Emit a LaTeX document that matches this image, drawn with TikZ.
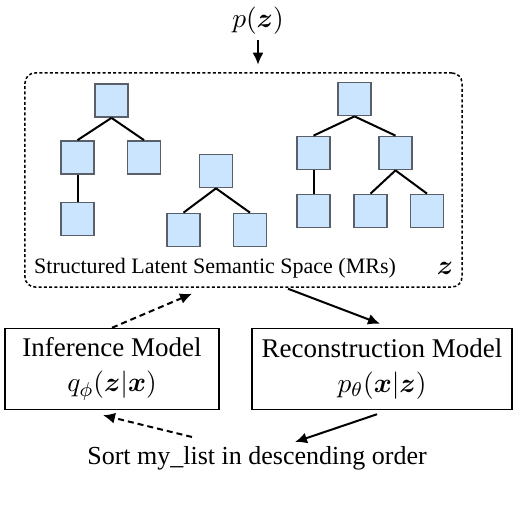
\documentclass[tikz,border=0pt]{standalone}
\usepackage{amsmath,amssymb}
\usepackage{fontspec}
\setmainfont{Liberation Serif}
\usepackage{tikz}
\usetikzlibrary{arrows.meta, positioning, calc}
\definecolor{mrfill}{HTML}{CCE5FF}
\definecolor{mrdraw}{HTML}{5A6069}
\tikzset{
  >=Latex,
  mrnode/.style={
    draw=mrdraw, fill=mrfill, line width=0.7pt,
    minimum size=13.2pt, inner sep=0pt
  },
  treeedge/.style={line width=0.8pt, draw=black},
  spacebox/.style={
    draw=black, line width=0.6pt, dash pattern=on 1.2pt off 0.9pt,
    rounded corners=4pt, inner sep=0pt
  },
  modelbox/.style={
    draw=black, line width=0.6pt, align=center, inner sep=0pt,
    minimum height=32.4pt, font=\fontsize{10.8}{14}\selectfont
  },
  arr/.style={-{Latex[length=4.8pt,width=4.4pt]}, line width=0.8pt},
  dasharr/.style={arr, dash pattern=on 2.4pt off 1.6pt}
}

\begin{document}
\begin{tikzpicture}[x=0.4pt, y=-0.4pt]
  \useasboundingbox (0,0) rectangle (520,506);
  % prior and latent space
  \node[inner sep=2pt, font=\fontsize{10.8}{13}\selectfont] (pz) at (258,21) {$p(\boldsymbol{z})$};
  \node[spacebox, minimum width=174.8pt, minimum height=85.6pt] (space) at (243.5,180) {};
  \draw[arr, shorten >=3pt] (pz) -- (space.north -| pz);
  % tree 1
  \node[mrnode] (t1r) at (111.5,100.5) {};
  \node[mrnode] (t1a) at (77.5,157.5) {};
  \node[mrnode] (t1b) at (144,157.5) {};
  \node[mrnode] (t1c) at (77.5,219) {};
  \draw[treeedge] (t1r.south) -- (t1a.north);
  \draw[treeedge] (t1r.south) -- (t1b.north);
  \draw[treeedge] (t1a.south) -- (t1c.north);
  % tree 2
  \node[mrnode] (t2r) at (216,171) {};
  \node[mrnode] (t2a) at (183.5,230) {};
  \node[mrnode] (t2b) at (250,230) {};
  \draw[treeedge] (t2r.south) -- (t2a.north);
  \draw[treeedge] (t2r.south) -- (t2b.north);
  % tree 3
  \node[mrnode] (t3r) at (354.5,99) {};
  \node[mrnode] (t3a) at (313.5,153) {};
  \node[mrnode] (t3b) at (395.5,153) {};
  \node[mrnode] (t3c) at (313.5,211) {};
  \node[mrnode] (t3d) at (370.5,211) {};
  \node[mrnode] (t3e) at (427,211) {};
  \draw[treeedge] (t3r.south) -- (t3a.north);
  \draw[treeedge] (t3r.south) -- (t3b.north);
  \draw[treeedge] (t3a.south) -- (t3c.north);
  \draw[treeedge] (t3b.south) -- (t3d.north);
  \draw[treeedge] (t3b.south) -- (t3e.north);
  \node[font=\fontsize{8.8}{11}\selectfont] (spacelab) at (215,268) {Structured Latent Semantic Space (MRs)};
  \node[font=\fontsize{10.8}{13}\selectfont] (zlab) at (445,268) {$\boldsymbol{z}$};
  % models
  \node[modelbox, minimum width=85.6pt] (infer) at (112,369)
    {Inference Model\\$q_\phi(\boldsymbol{z}|\boldsymbol{x})$};
  \node[modelbox, minimum width=104pt] (recon) at (382,369)
    {Reconstruction Model\\$p_\theta(\boldsymbol{x}|\boldsymbol{z})$};
  \node[font=\fontsize{10.4}{12}\selectfont] (sort) at (257,458) {Sort my\_list in descending order};
  \draw[dasharr] (infer.north) -- ($(space.south)+(-51.5,6)$);
  \draw[arr] ($(space.south)+(44.5,1)$) -- ($(recon.north)+(-2,-4)$);
  \draw[arr] ($(recon.south)+(-5,4)$) -- ($(sort)+(38,-16)$);
  \draw[dasharr] ($(sort)+(-65,-21)$) -- ($(infer.south)+(-9,5)$);
\end{tikzpicture}
\end{document}
